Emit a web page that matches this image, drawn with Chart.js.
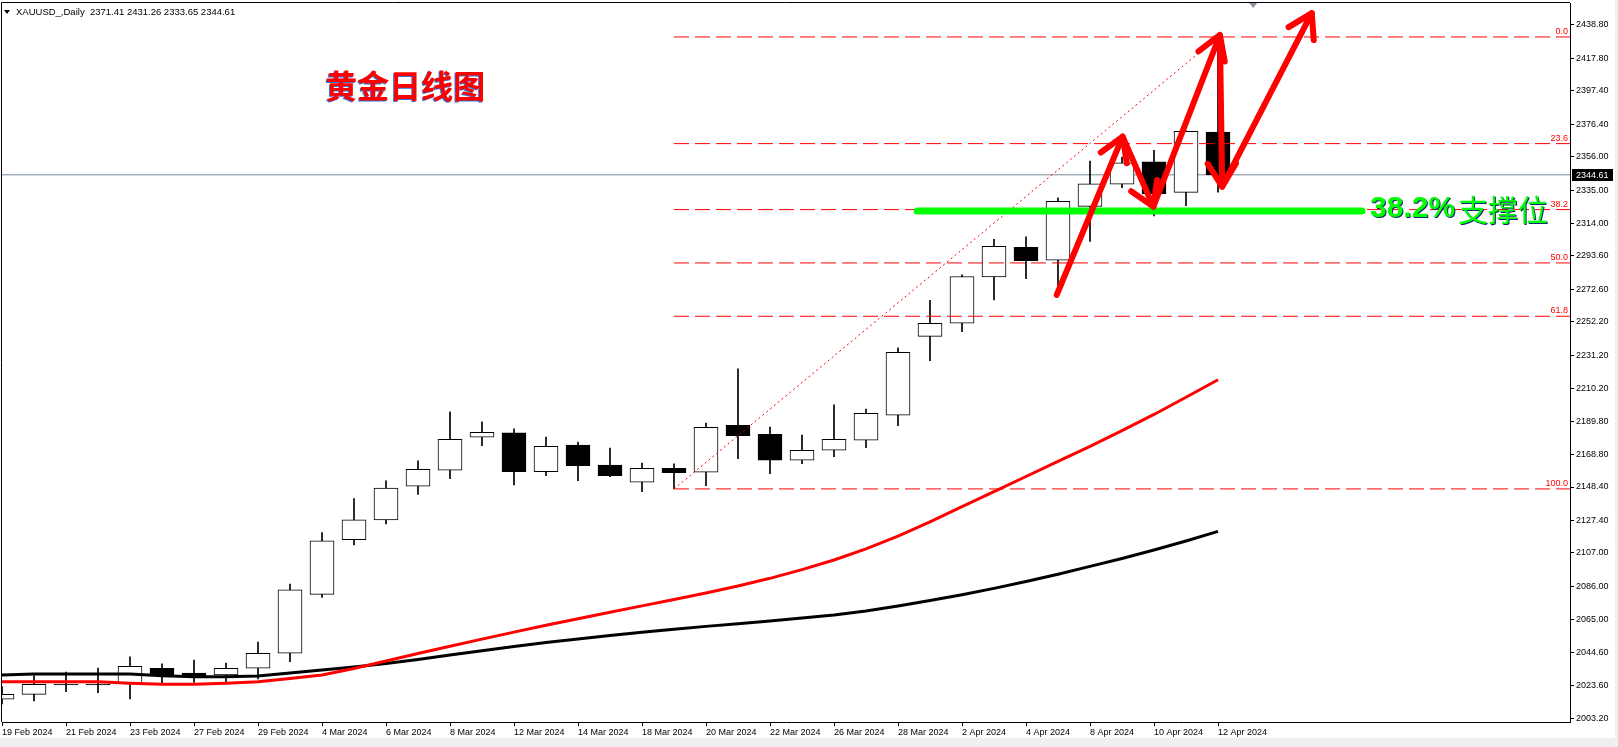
<!DOCTYPE html>
<html>
<head>
<meta charset="utf-8">
<script src="https://cdn.jsdelivr.net/npm/chart.js@4.4.1/dist/chart.umd.min.js"></script>
<style>
  html, body { margin: 0; padding: 0; background: #f0f0f0; }
  #wrap { position: absolute; left: 0; top: 0; width: 1615px; height: 738px; background: #fff; }
</style>
</head>
<body>
<div id="wrap"><canvas id="xauChart"></canvas></div>
<script>
// trading days shown on the chart
const dates = ['19 Feb 2024','20 Feb 2024','21 Feb 2024','22 Feb 2024','23 Feb 2024','26 Feb 2024','27 Feb 2024','28 Feb 2024','29 Feb 2024',
  '1 Mar 2024','4 Mar 2024','5 Mar 2024','6 Mar 2024','7 Mar 2024','8 Mar 2024','11 Mar 2024','12 Mar 2024','13 Mar 2024','14 Mar 2024','15 Mar 2024',
  '18 Mar 2024','19 Mar 2024','20 Mar 2024','21 Mar 2024','22 Mar 2024','25 Mar 2024','26 Mar 2024','27 Mar 2024','28 Mar 2024',
  '1 Apr 2024','2 Apr 2024','3 Apr 2024','4 Apr 2024','5 Apr 2024','8 Apr 2024','9 Apr 2024','10 Apr 2024','11 Apr 2024','12 Apr 2024'];

const opens  = [2015.0,2018.1,2024.6,2024.6,2025.0,2034.5,2031.5,2030.3,2034.5,2043.9,2080.9,2115.3,2127.7,2148.9,2158.9,2179.7,2182.4,2158.0,2174.8,2162.1,
  2151.4,2160.2,2157.7,2187.2,2181.5,2165.2,2171.5,2177.8,2193.5,2243.1,2251.3,2280.4,2299.1,2290.9,2324.8,2338.7,2352.7,2333.6,2371.41];
const highs  = [2022.9,2029.8,2032.1,2034.6,2041.6,2037.2,2039.6,2037.8,2051.0,2087.4,2119.8,2141.2,2152.2,2164.8,2195.6,2189.3,2184.9,2179.8,2176.7,2172.9,
  2163.5,2162.9,2188.6,2222.6,2186.1,2181.1,2200.0,2197.4,2235.8,2265.8,2281.7,2304.0,2305.6,2330.1,2353.3,2355.8,2360.0,2372.2,2431.26];
const lows   = [2012.0,2013.9,2019.8,2019.2,2015.2,2025.4,2025.6,2025.6,2027.7,2038.6,2079.0,2112.0,2125.2,2143.8,2153.6,2174.4,2149.7,2155.5,2152.4,2154.9,
  2145.5,2147.2,2149.2,2166.2,2156.8,2163.1,2167.5,2173.1,2186.9,2227.8,2246.0,2266.0,2279.3,2272.0,2302.8,2336.5,2318.7,2325.2,2333.65];
const closes = [2018.1,2024.4,2024.0,2024.0,2035.7,2030.3,2029.8,2034.5,2043.9,2083.7,2114.6,2127.7,2147.8,2159.5,2178.4,2182.8,2158.0,2174.0,2161.8,2155.5,
  2160.2,2157.4,2185.9,2180.7,2165.2,2171.5,2178.4,2194.7,2233.1,2251.3,2280.7,2299.7,2290.7,2328.0,2338.9,2352.1,2332.8,2372.0,2344.61];

// moving averages
const maRed   = [2026.0,2026.0,2026.0,2026.0,2025.0,2024.4,2024.4,2025.0,2026.0,2028.1,2030.3,2034.3,2039.0,2043.8,2048.3,2052.8,2057.2,2061.5,2065.6,2069.7,
  2073.7,2077.7,2081.8,2086.2,2091.0,2096.5,2102.5,2109.5,2117.5,2126.5,2136.0,2145.5,2155.0,2164.5,2174.0,2183.8,2194.0,2204.8,2215.8];
const maBlack = [2030.3,2030.9,2030.9,2030.9,2030.9,2029.8,2029.2,2029.2,2029.6,2031.5,2033.4,2035.3,2037.4,2040.0,2042.8,2045.5,2048.2,2050.6,2052.9,2055.0,
  2057.1,2059.0,2060.8,2062.5,2064.2,2066.0,2068.0,2070.5,2073.6,2077.0,2080.7,2084.7,2089.0,2093.6,2098.5,2103.5,2108.8,2114.5,2120.5];

const yTickValues = [2438.80,2417.80,2397.40,2376.40,2356.00,2335.00,2314.00,2293.60,2272.60,2252.20,2231.20,2210.20,2189.80,2168.80,2148.40,
  2127.40,2107.00,2086.00,2065.00,2044.60,2023.60,2003.20];
const xTickIndex = [0,2,4,6,8,10,12,14,16,18,20,22,24,26,28,30,32,34,36,38];

// fibonacci retracement: from the 19 Mar low to the 12 Apr high
const fibFrom = { x: 21, y: 2147.2 };
const fibTo = { x: 38, y: 2431.26 };
const fibLevels = [0.0, 23.6, 38.2, 50.0, 61.8, 100.0];

// drawn objects
const supportLevel = 2321.8;
const supportFrom = 28.6, supportTo = 42.5;
const arrowX = [32.96, 35.02, 35.98, 38.06, 38.13, 40.93];
const arrowY = [2269.1, 2368.6, 2324.6, 2432.5, 2337.2, 2446.2];
const lastPrice = 2344.61;
const header = 'XAUUSD_,Daily  2371.41 2431.26 2333.65 2344.61';

const X_MAX = 49;
const Y_MIN = 2000.7, Y_MAX = 2452.6;

const fibPrice = l => fibTo.y - (fibTo.y - fibFrom.y) * l / 100;

const bodies = dates.map((d, i) => ({ x: i, y: [opens[i], closes[i]] }));
const wicks = dates.map((d, i) => ({ x: i, y: [lows[i], highs[i]] }));
const bodyFill = dates.map((d, i) => closes[i] > opens[i] ? '#ffffff' : '#000000');

const fibSets = fibLevels.map(l => ({
  type: 'line',
  data: [{ x: fibFrom.x, y: fibPrice(l) }, { x: X_MAX, y: fibPrice(l) }],
  borderColor: '#ff0000', borderWidth: 1, borderDash: [15, 6],
  pointRadius: 0, order: 2
}));

const noPad = s => { s.paddingTop = 0; s.paddingBottom = 0; s.paddingLeft = 0; s.paddingRight = 0; };

const overlay = {
  id: 'overlay',
  afterDatasetsDraw(chart) {
    const { ctx, chartArea: a, scales: { x, y } } = chart;
    ctx.save();

    // fib level captions
    ctx.font = '9px "Liberation Sans"';
    ctx.fillStyle = '#ff0000';
    ctx.textAlign = 'right';
    ctx.textBaseline = 'bottom';
    fibLevels.forEach(l => ctx.fillText(l.toFixed(1), a.right - 2, y.getPixelForValue(fibPrice(l)) - 1));

    // arrow heads
    ctx.strokeStyle = '#ff0000';
    ctx.lineWidth = 6;
    ctx.lineCap = 'round';
    for (let k = 1; k < arrowX.length; k++) {
      const x0 = x.getPixelForValue(arrowX[k - 1]), y0 = y.getPixelForValue(arrowY[k - 1]);
      const x1 = x.getPixelForValue(arrowX[k]), y1 = y.getPixelForValue(arrowY[k]);
      const ang = Math.atan2(y0 - y1, x0 - x1);
      ctx.beginPath();
      [-0.55, 0.55].forEach(d => {
        ctx.moveTo(x1, y1);
        ctx.lineTo(x1 + 27 * Math.cos(ang + d), y1 + 27 * Math.sin(ang + d));
      });
      ctx.stroke();
    }

    // title
    const tx = x.getPixelForValue(12.6), ty = y.getPixelForValue(2400.5);
    ctx.font = 'bold 32px "Noto Sans CJK SC"';
    ctx.textAlign = 'center';
    ctx.textBaseline = 'middle';
    ctx.fillStyle = '#3c6fd0';
    ctx.fillText('黄金日线图', tx - 1, ty + 1);
    ctx.fillStyle = '#ff0000';
    ctx.fillText('黄金日线图', tx, ty);

    // support caption
    const sx = x.getPixelForValue(supportTo) + 8, sy = y.getPixelForValue(supportLevel) - 2;
    ctx.textAlign = 'left';
    ctx.font = 'bold 30px "Liberation Sans"';
    const w1 = ctx.measureText('38.2%').width;
    ctx.fillStyle = '#1a237e';
    ctx.fillText('38.2%', sx + 1, sy + 1);
    ctx.fillStyle = '#00ff00';
    ctx.fillText('38.2%', sx, sy);
    ctx.font = '30px "Noto Sans CJK SC"';
    ctx.fillStyle = '#1a237e';
    ctx.fillText('支撑位', sx + w1 + 4, sy + 1);
    ctx.fillStyle = '#00ff00';
    ctx.fillText('支撑位', sx + w1 + 3, sy);
    ctx.restore();
  },
  afterDraw(chart) {
    const { ctx, chartArea: a, scales: { x, y } } = chart;
    ctx.save();
    // frame top and left
    ctx.strokeStyle = '#000';
    ctx.lineWidth = 1;
    ctx.beginPath();
    ctx.moveTo(a.left - 0.5, a.bottom);
    ctx.lineTo(a.left - 0.5, a.top - 0.5);
    ctx.lineTo(a.right, a.top - 0.5);
    ctx.stroke();

    // header
    ctx.fillStyle = '#000';
    ctx.beginPath();
    ctx.moveTo(4, 10); ctx.lineTo(10, 10); ctx.lineTo(7, 14); ctx.closePath();
    ctx.fill();
    ctx.font = '9.5px "Liberation Sans"';
    ctx.textAlign = 'left';
    ctx.textBaseline = 'middle';
    ctx.fillText(header, 16, 12.5);

    // shift marker
    const mx = x.getPixelForValue(39.1);
    ctx.fillStyle = '#8a96a3';
    ctx.beginPath();
    ctx.moveTo(mx - 4, a.top); ctx.lineTo(mx + 4, a.top); ctx.lineTo(mx, a.top + 5); ctx.closePath();
    ctx.fill();

    // last price tag
    const py = Math.round(y.getPixelForValue(lastPrice));
    ctx.font = '9px "Liberation Sans"';
    ctx.fillStyle = '#000';
    ctx.fillRect(a.right + 2, py - 6, 41, 12);
    ctx.fillStyle = '#fff';
    ctx.fillText(lastPrice.toFixed(2), a.right + 6, py + 0.5);
    ctx.restore();
  }
};

Chart.defaults.font.family = '"Liberation Sans", Arial, sans-serif';

new Chart(document.getElementById('xauChart'), {
  type: 'bar',
  data: {
    datasets: [
      { type: 'line', data: [{ x: 0, y: lastPrice }, { x: X_MAX, y: lastPrice }], borderColor: '#778899', borderWidth: 1, pointRadius: 0, order: 9 },
      { data: wicks, backgroundColor: '#000', barThickness: 1, grouped: false, order: 8 },
      { data: bodies, backgroundColor: bodyFill, borderColor: '#000', borderWidth: 1, borderSkipped: false, barThickness: 24, grouped: false, order: 7 },
      { type: 'line', data: dates.map((d, i) => ({ x: i, y: maBlack[i] })), borderColor: '#000', borderWidth: 3, pointRadius: 0, order: 5 },
      { type: 'line', data: dates.map((d, i) => ({ x: i, y: maRed[i] })), borderColor: '#ff0000', borderWidth: 3, pointRadius: 0, order: 4 },
      ...fibSets,
      { type: 'line', data: [fibFrom, fibTo], borderColor: '#ff0000', borderWidth: 1, borderDash: [2, 3], pointRadius: 0, order: 2 },
      { type: 'line', data: [{ x: supportFrom, y: supportLevel }, { x: supportTo, y: supportLevel }], borderColor: '#00ff00', borderWidth: 7,
        borderCapStyle: 'round', pointRadius: 0, order: 1 },
      { type: 'line', data: arrowX.map((v, i) => ({ x: v, y: arrowY[i] })), borderColor: '#ff0000', borderWidth: 6,
        borderCapStyle: 'round', borderJoinStyle: 'round', pointRadius: 0, order: 0 }
    ]
  },
  options: {
    responsive: true,
    maintainAspectRatio: false,
    animation: false,
    events: [],
    layout: { padding: { left: 2, top: 3, right: 0, bottom: 0 } },
    plugins: { legend: { display: false }, tooltip: { enabled: false } },
    scales: {
      x: {
        type: 'linear', min: 0, max: X_MAX, offset: false,
        afterBuildTicks: s => { s.ticks = xTickIndex.map(v => ({ value: v })); },
        afterFit: s => { s.height = 16; noPad(s); },
        grid: { drawOnChartArea: false, offset: false, tickLength: 4, color: '#000' },
        border: { color: '#000' },
        ticks: { autoSkip: false, maxRotation: 0, align: 'start', padding: 1, color: '#000', font: { size: 9 },
          callback: v => dates[v] }
      },
      y: {
        type: 'linear', position: 'right', min: Y_MIN, max: Y_MAX,
        afterBuildTicks: s => { s.ticks = yTickValues.map(v => ({ value: v })); },
        afterFit: s => { s.width = 45; noPad(s); },
        grid: { drawOnChartArea: false, tickLength: 4, color: '#000' },
        border: { color: '#000' },
        ticks: { padding: 2, color: '#000', font: { size: 9 }, callback: v => v.toFixed(2) }
      }
    }
  },
  plugins: [overlay]
});
</script>
</body>
</html>
